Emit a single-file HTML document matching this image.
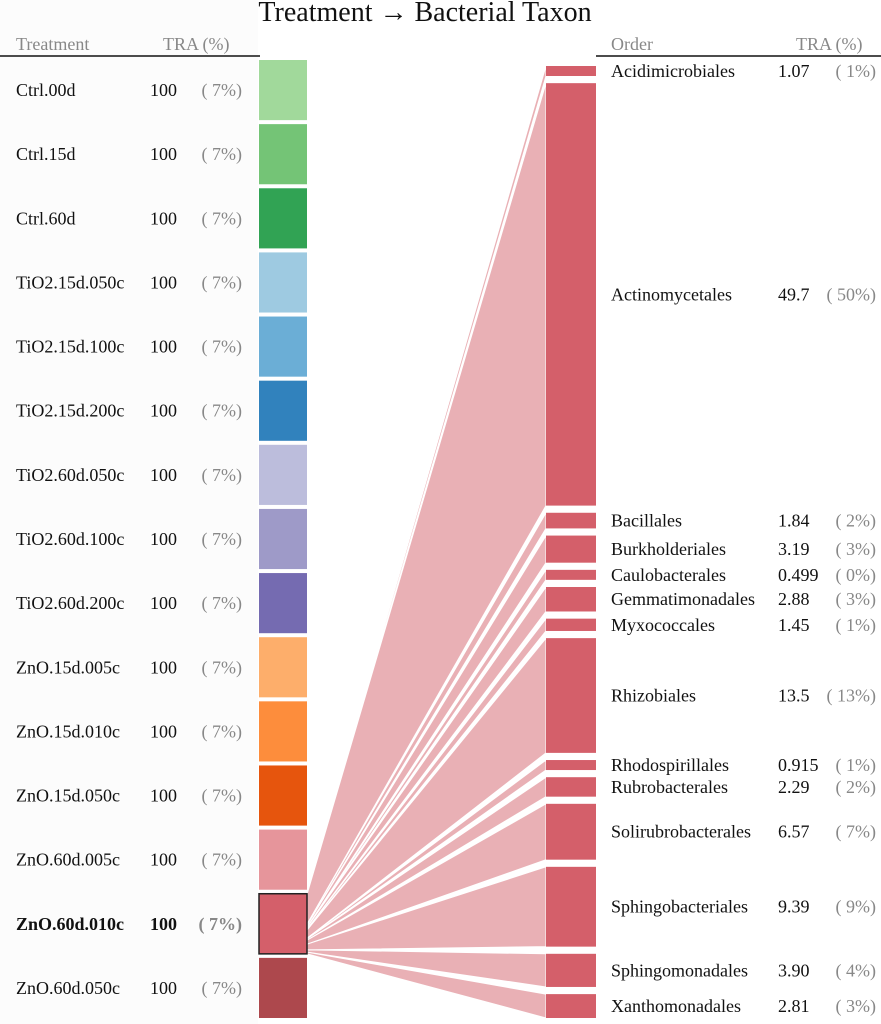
<!DOCTYPE html>
<html><head><meta charset="utf-8"><style>
body{margin:0;background:#fff;}
svg{display:block;font-family:"Liberation Serif",serif;}
</style></head><body>
<svg id="chart" width="881" height="1024">
<rect x="0" y="0" width="258" height="1024" fill="#fcfcfc"/>
<text x="425" y="21" text-anchor="middle" font-size="28" fill="#111">Treatment → Bacterial Taxon</text>
<text x="16" y="50" font-size="18" fill="#888">Treatment</text>
<text x="163" y="50" font-size="18" fill="#888">TRA (%)</text>
<line x1="0" y1="56" x2="260" y2="56" stroke="#111" stroke-width="1.5"/>
<text x="611" y="50" font-size="18" fill="#888">Order</text>
<text x="796" y="50" font-size="18" fill="#888">TRA (%)</text>
<line x1="596" y1="56" x2="881" y2="56" stroke="#111" stroke-width="1.5"/>
<g id="flows"></g><g id="left"></g><g id="right"></g>
</svg>
<script>
const treatments=["Ctrl.00d","Ctrl.15d","Ctrl.60d","TiO2.15d.050c","TiO2.15d.100c","TiO2.15d.200c","TiO2.60d.050c","TiO2.60d.100c","TiO2.60d.200c","ZnO.15d.005c","ZnO.15d.010c","ZnO.15d.050c","ZnO.60d.005c","ZnO.60d.010c","ZnO.60d.050c"];
const treatmentValues=[100,100,100,100,100,100,100,100,100,100,100,100,100,100,100];
const treatmentPct=["7%","7%","7%","7%","7%","7%","7%","7%","7%","7%","7%","7%","7%","7%","7%"];
const treatmentColors=["#a1d99b","#74c476","#31a354","#9ecae1","#6baed6","#3182bd","#bcbddc","#9e9ac8","#756bb1","#fdae6b","#fd8d3c","#e6550d","#e6959b","#d45f6a","#ad484d"];
const selectedIndex=13;
const orders=["Acidimicrobiales","Actinomycetales","Bacillales","Burkholderiales","Caulobacterales","Gemmatimonadales","Myxococcales","Rhizobiales","Rhodospirillales","Rubrobacterales","Solirubrobacterales","Sphingobacteriales","Sphingomonadales","Xanthomonadales"];
const orderValues=[1.07,49.7,1.84,3.19,0.499,2.88,1.45,13.5,0.915,2.29,6.57,9.39,3.90,2.81];
const orderLabels=["1.07","49.7","1.84","3.19","0.499","2.88","1.45","13.5","0.915","2.29","6.57","9.39","3.90","2.81"];
const orderPct=["1%","50%","2%","3%","0%","3%","1%","13%","1%","2%","7%","9%","4%","3%"];
const NS="http://www.w3.org/2000/svg";
function mk(t,a,p){const e=document.createElementNS(NS,t);for(const k in a)e.setAttribute(k,a[k]);p.appendChild(e);return e;}
const L=document.getElementById('left'),R=document.getElementById('right'),F=document.getElementById('flows');
const FS=18;
const lTop=60,lBot=1018,lGap=4;
const lTotal=treatmentValues.reduce((a,b)=>a+b,0);
const lScale=(lBot-lTop-lGap*(treatments.length-1))/lTotal;
let y=lTop;const lPos=[];
treatments.forEach((t,i)=>{
  const h=treatmentValues[i]*lScale;lPos.push([y,h]);
  const sel=i===selectedIndex;
  const r=mk('rect',{x:259,y:y,width:48,height:h,fill:treatmentColors[i],stroke:sel?'#222':'none','stroke-width':sel?1.5:0},L);
  
  
  const cy=y+h/2+6;const fw=sel?'bold':'normal';
  const a=mk('text',{x:16,y:cy,'font-size':FS,'font-weight':fw,fill:'#111'},L);a.textContent=t;
  
  
  const b=mk('text',{x:150,y:cy,'font-size':FS,'font-weight':fw,fill:'#111'},L);b.textContent=treatmentValues[i];
  
  
  const c=mk('text',{x:242,y:cy,'font-size':FS,'font-weight':fw,fill:'#888','text-anchor':'end'},L);c.textContent='( '+treatmentPct[i]+')';
  
  
  y+=h+lGap;
});
const rTop=66,rBot=1018,rScale=8.5,minH=10;
const rTotal=orderValues.reduce((a,b)=>a+b,0);
const hs=orderValues.map(v=>Math.max(minH,v*rScale));
const rGap=(rBot-rTop-hs.reduce((a,b)=>a+b,0))/(orders.length-1);
const sp=lPos[selectedIndex];const sScale=sp[1]/rTotal;
let ry=rTop,sy=sp[0];
orders.forEach((o,i)=>{
  const h=hs[i],sh=orderValues[i]*sScale;
  const f=mk('path',{d:`M307,${sy} L546,${ry} L546,${ry+h} L307,${sy+sh} Z`,fill:'#e9b0b5',stroke:'#fff','stroke-width':1},F);
  
  
  const r=mk('rect',{x:546,y:ry,width:50,height:h,fill:'#d45f6a'},R);
  
  
  const cy=ry+h/2+6;
  const a=mk('text',{x:611,y:cy,'font-size':FS,fill:'#111'},R);a.textContent=o;
  
  
  const b=mk('text',{x:778,y:cy,'font-size':FS,fill:'#111'},R);b.textContent=orderLabels[i];
  
  
  const c=mk('text',{x:876,y:cy,'font-size':FS,fill:'#888','text-anchor':'end'},R);c.textContent='( '+orderPct[i]+')';
  
  
  ry+=h+rGap;sy+=sh;
});
</script>
</body></html>
